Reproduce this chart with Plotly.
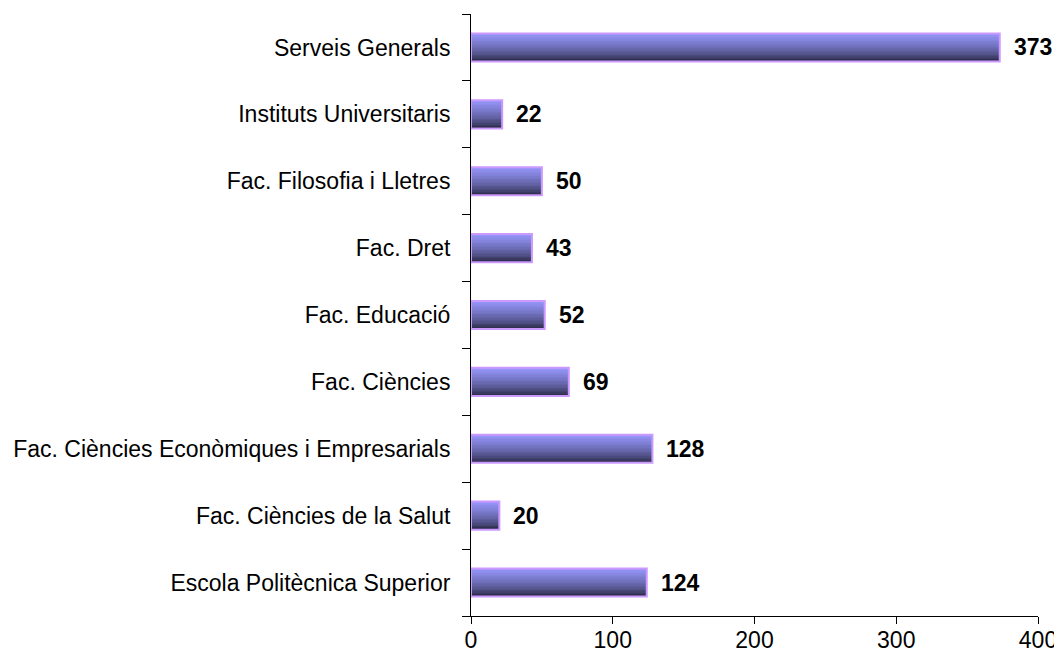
import plotly.graph_objects as go

categories = [
    "Escola Politècnica Superior",
    "Fac. Ciències de la Salut",
    "Fac. Ciències Econòmiques i Empresarials",
    "Fac. Ciències",
    "Fac. Educació",
    "Fac. Dret",
    "Fac. Filosofia i Lletres",
    "Instituts Universitaris",
    "Serveis Generals",
]
values = [124, 20, 128, 69, 52, 43, 50, 22, 373]
x_ticks = [0, 100, 200, 300, 400]

FONT = "Liberation Sans, Arial, sans-serif"
FS = 23
BAR_W = 0.42
N = 20
dark = (26, 26, 44)
light = (148, 148, 248)

fig = go.Figure()
step = BAR_W / N
for i in range(N):
    t = (i / (N - 1)) ** 0.6
    c = tuple(round(dark[k] + (light[k] - dark[k]) * t) for k in range(3))
    fig.add_trace(go.Bar(
        x=values, y=categories, orientation="h",
        width=step * 1.15, offset=-BAR_W / 2 + i * step,
        marker=dict(color="rgb(%d,%d,%d)" % c, line=dict(width=0)),
        hoverinfo="skip", showlegend=False,
    ))
# outline
fig.add_trace(go.Bar(
    x=values, y=categories, orientation="h",
    width=BAR_W, offset=-BAR_W / 2,
    marker=dict(color="rgba(0,0,0,0)", line=dict(color="#cc99ff", width=2)),
    showlegend=False,
))

annotations = [
    dict(x=v, y=c, text="<b>%d</b>" % v, showarrow=False, xanchor="left",
         xshift=12, font=dict(family=FONT, size=FS, color="black"))
    for v, c in zip(values, categories)
]

fig.update_layout(
    width=1054, height=654,
    margin=dict(l=463, r=24, t=6, b=46, autoexpand=False),
    paper_bgcolor="white", plot_bgcolor="white",
    barmode="overlay",
    annotations=annotations,
    font=dict(family=FONT, size=FS, color="black"),
)
fig.update_xaxes(
    range=[0, 400], tickvals=x_ticks, showgrid=False, zeroline=False,
    showline=True, linecolor="black", linewidth=1, automargin=False,
    ticks="outside", ticklen=7, tickcolor="black", ticklabelstandoff=-4,
    tickfont=dict(family=FONT, size=FS),
)
fig.update_yaxes(
    categoryorder="array", categoryarray=categories, automargin=False,
    showgrid=False, zeroline=False, showline=True, linecolor="black", linewidth=1,
    ticks="outside", ticklen=8, tickcolor="black", tickson="boundaries",
    tickfont=dict(family=FONT, size=FS), ticklabelstandoff=15,
)

fig.write_html("out.html")
